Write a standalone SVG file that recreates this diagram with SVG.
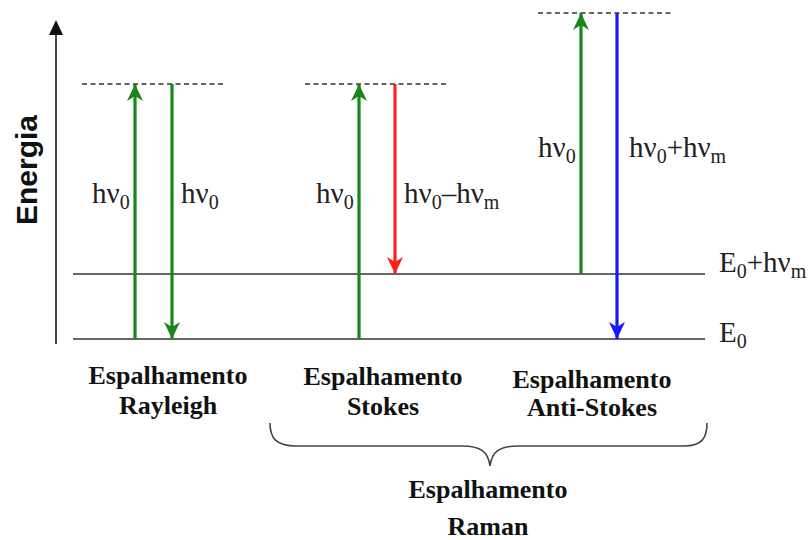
<svg xmlns="http://www.w3.org/2000/svg" width="811" height="540" viewBox="0 0 811 540">
<style>
.lvl{stroke:#333;stroke-width:1.6;fill:none}
.dash{stroke:#333;stroke-width:1.4;stroke-dasharray:5,3.5;fill:none}
.g{stroke:#1a861a;stroke-width:3.2;fill:none;marker-end:url(#mg)}
.r{stroke:#ff1f1f;stroke-width:3.2;fill:none;marker-end:url(#mr)}
.b{stroke:#1717ff;stroke-width:3.2;fill:none;marker-end:url(#mb)}
.lbl{font-family:"Liberation Serif",serif;font-size:29px;fill:#222}
.sub{font-size:20px}
.cap{font-family:"Liberation Serif",serif;font-size:26px;font-weight:bold;fill:#111;text-anchor:middle}
</style>
<defs>
<marker id="mg" markerUnits="userSpaceOnUse" markerWidth="18" markerHeight="16" refX="17" refY="8" orient="auto" viewBox="0 0 18 16"><path d="M0,0 L17,8 L0,16 L5,8 Z" fill="#1a861a"/></marker>
<marker id="mr" markerUnits="userSpaceOnUse" markerWidth="18" markerHeight="16" refX="17" refY="8" orient="auto" viewBox="0 0 18 16"><path d="M0,0 L17,8 L0,16 L5,8 Z" fill="#ff1f1f"/></marker>
<marker id="mb" markerUnits="userSpaceOnUse" markerWidth="18" markerHeight="16" refX="17" refY="8" orient="auto" viewBox="0 0 18 16"><path d="M0,0 L17,8 L0,16 L5,8 Z" fill="#1717ff"/></marker>
</defs>
<rect width="811" height="540" fill="#fff"/>
<g id="axis">
<line x1="56" y1="344" x2="56" y2="32" stroke="#333" stroke-width="1.8"/>
<polygon points="56,20 49,35 63,35" fill="#111"/>
<text transform="translate(37,170) rotate(-90)" x="0" y="0" font-family="Liberation Sans,sans-serif" font-size="30" font-weight="bold" fill="#111" text-anchor="middle">Energia</text>
</g>
<g id="levels">
<line class="lvl" x1="73" y1="274" x2="705" y2="274"/>
<line class="lvl" x1="73" y1="339" x2="705" y2="339"/>
<line class="dash" x1="82" y1="84" x2="226" y2="84"/>
<line class="dash" x1="305" y1="84" x2="449" y2="84"/>
<line class="dash" x1="538" y1="13" x2="672" y2="13"/>
<text class="lbl" x="719" y="272">E<tspan class="sub" dy="6">0</tspan><tspan dy="-6">+hν</tspan><tspan class="sub" dy="6">m</tspan></text>
<text class="lbl" x="719" y="342">E<tspan class="sub" dy="6">0</tspan></text>
</g>
<g id="connectors">
<line class="g" x1="135" y1="339" x2="135" y2="84"/>
<line class="g" x1="172" y1="84" x2="172" y2="339"/>
<line class="g" x1="359" y1="339" x2="359" y2="84"/>
<line class="r" x1="395" y1="84" x2="395" y2="274"/>
<line class="g" x1="581" y1="274" x2="581" y2="13"/>
<line class="b" x1="617" y1="13" x2="617" y2="339"/>
</g>
<g id="rayleigh">
<text class="lbl" x="92" y="203">hν<tspan class="sub" dy="6">0</tspan></text>
<text class="lbl" x="181" y="203">hν<tspan class="sub" dy="6">0</tspan></text>
<text class="cap" x="168" y="384">Espalhamento</text>
<text class="cap" x="168" y="414">Rayleigh</text>
</g>
<g id="stokes">
<text class="lbl" x="316" y="203">hν<tspan class="sub" dy="6">0</tspan></text>
<text class="lbl" x="404" y="203">hν<tspan class="sub" dy="6">0</tspan><tspan dy="-6">–hν</tspan><tspan class="sub" dy="6">m</tspan></text>
<text class="cap" x="383" y="385">Espalhamento</text>
<text class="cap" x="383" y="415">Stokes</text>
</g>
<g id="antistokes">
<text class="lbl" x="538" y="157">hν<tspan class="sub" dy="6">0</tspan></text>
<text class="lbl" x="629" y="157">hν<tspan class="sub" dy="6">0</tspan><tspan dy="-6">+hν</tspan><tspan class="sub" dy="6">m</tspan></text>
<text class="cap" x="592" y="388">Espalhamento</text>
<text class="cap" x="592" y="416">Anti-Stokes</text>
</g>
<g id="raman">
<path d="M270,423 C270,438 276,446 296,446 L462,446 C480,446 488,451 490,466 C492,451 500,446 518,446 L684,446 C702,446 707,438 707,423" fill="none" stroke="#444" stroke-width="1.6"/>
<text class="cap" x="488" y="498">Espalhamento</text>
<text class="cap" x="488" y="535">Raman</text>
</g>
</svg>
